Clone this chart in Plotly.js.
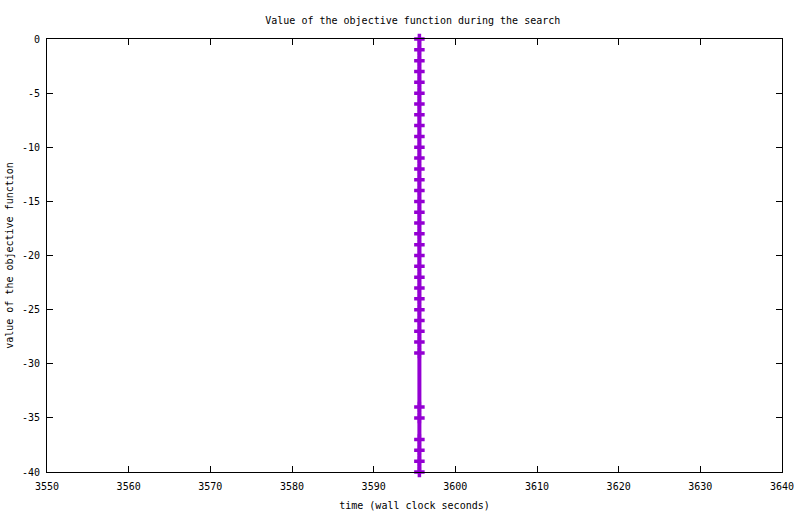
<!DOCTYPE html>
<html>
<head>
<meta charset="utf-8">
<script src="https://cdn.plot.ly/plotly-3.0.1.min.js"></script>
<style>
  html, body { margin: 0; padding: 0; background: #fff; }
  #chart { width: 800px; height: 514px; }
</style>
</head>
<body>
<div id="chart"></div>
<script>
// objective value recorded at each step of the search (all at the same wall clock second)
const times = [
    3595.6, 3595.6, 3595.6, 3595.6, 3595.6, 3595.6, 3595.6, 3595.6, 3595.6, 3595.6,
    3595.6, 3595.6, 3595.6, 3595.6, 3595.6, 3595.6, 3595.6, 3595.6, 3595.6, 3595.6,
    3595.6, 3595.6, 3595.6, 3595.6, 3595.6, 3595.6, 3595.6, 3595.6, 3595.6, 3595.6,
    3595.6, 3595.6, 3595.6, 3595.6, 3595.6, 3595.6
];
const objective = [
    0, -1, -2, -3, -4, -5, -6, -7, -8, -9,
    -10, -11, -12, -13, -14, -15, -16, -17, -18, -19,
    -20, -21, -22, -23, -24, -25, -26, -27, -28, -29,
    -34, -35, -37, -38, -39, -40
];
const xTicks = [3550, 3560, 3570, 3580, 3590, 3600, 3610, 3620, 3630, 3640];
const yTicks = [0, -5, -10, -15, -20, -25, -30, -35, -40];

const font = { family: 'DejaVu Sans Mono, monospace', size: 10, color: '#000' };

const axisBase = {
    showline: true, linecolor: '#000', linewidth: 1, mirror: 'ticks',
    ticks: 'inside', ticklen: 6, tickcolor: '#000', tickwidth: 1,
    showgrid: false, zeroline: false, tickfont: font
};

const trace = {
    x: times, y: objective, type: 'scatter', mode: 'lines+markers',
    line: { color: '#9400d3', width: 4 },
    marker: { symbol: 'cross-thin', size: 7.5, line: { color: '#9400d3', width: 3.5 } },
    cliponaxis: false, hoverinfo: 'x+y'
};

const layout = {
    width: 800, height: 514,
    paper_bgcolor: '#fff', plot_bgcolor: '#fff',
    font: font, showlegend: false,
    margin: { l: 47, r: 18, t: 39, b: 42 },
    title: { text: 'Value of the objective function during the search', font: font, x: 0.516, xanchor: 'center', y: 0.96, yanchor: 'middle' },
    xaxis: { ...axisBase, range: [3550, 3640], tickvals: xTicks, ticktext: xTicks.map(String), ticklabelstandoff: 5,
        title: { text: 'time (wall clock seconds)', font: font, standoff: 10 } },
    yaxis: { ...axisBase, range: [-40, 0], tickvals: yTicks, ticktext: yTicks.map(v => v === 0 ? '0' : '-' + Math.abs(v)), ticklabelstandoff: 4,
        title: { text: 'value of the objective function', font: font, standoff: 6 } }
};

Plotly.newPlot('chart', [trace], layout, { displayModeBar: false, staticPlot: true });
</script>
</body>
</html>
